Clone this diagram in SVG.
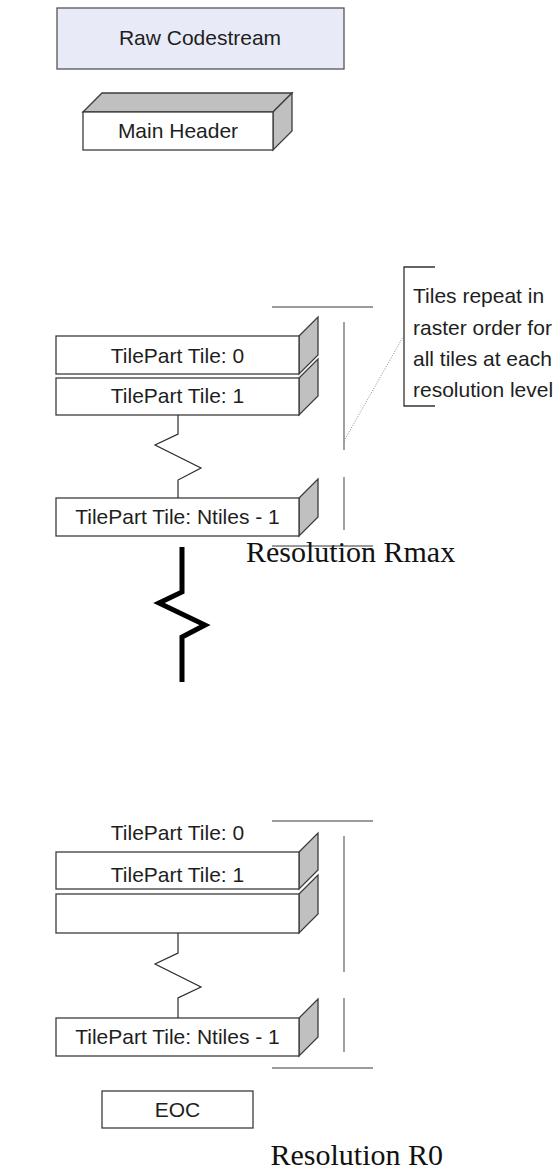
<svg xmlns="http://www.w3.org/2000/svg" width="558" height="1171" viewBox="0 0 558 1171">
<style>
.box{fill:#ffffff;stroke:#3c3c3c;stroke-width:1.3}
.side{fill:#c0c0c0;stroke:#3c3c3c;stroke-width:1.3;stroke-linejoin:miter}
.lbl{font-family:"Liberation Sans",Arial,sans-serif;font-size:21px;fill:#1e1e1e;text-anchor:middle}
.note{font-family:"Liberation Sans",Arial,sans-serif;font-size:21px;fill:#1e1e1e}
.res{font-family:"Liberation Serif","Times New Roman",serif;font-size:30px;fill:#111}
.gl{stroke:#7a7a7a;stroke-width:1.4;fill:none}
.zz{stroke:#2a2a2a;stroke-width:1.2;fill:none}
</style>
<rect width="558" height="1171" fill="#ffffff"/>

<g id="raw-codestream">
<rect x="57" y="8" width="287" height="61" fill="#e8ebf7" stroke="#555" stroke-width="1.3"/>
<text class="lbl" x="200" y="45">Raw Codestream</text>
</g>

<g id="main-header">
<polygon class="side" points="83,112 102,93 292,93 273,112"/>
<polygon class="side" points="273,112 292,93 292,131 273,150"/>
<rect class="box" x="83" y="112" width="190" height="38"/>
<text class="lbl" x="178" y="138">Main Header</text>
</g>

<g id="rmax-tile0">
<polygon class="side" points="299,336 318,317 318,355 299,374"/>
<rect class="box" x="56" y="336" width="243" height="38"/>
<text class="lbl" x="177.5" y="363">TilePart Tile: 0</text>
</g>
<g id="rmax-tile1">
<polygon class="side" points="299,378 318,359 318,396 299,415"/>
<rect class="box" x="56" y="378" width="243" height="37"/>
<text class="lbl" x="177.5" y="403">TilePart Tile: 1</text>
</g>
<g id="rmax-tileN">
<polygon class="side" points="299,498 318,479 318,517 299,536"/>
<rect class="box" x="56" y="498" width="243" height="38"/>
<text class="lbl" x="177.5" y="524">TilePart Tile: Ntiles - 1</text>
</g>

<g id="note">
<path d="M435,267 H404 V406 H435" fill="none" stroke="#333" stroke-width="1.3"/>
<text class="note" x="413" y="303">Tiles repeat in</text>
<text class="note" x="413" y="334.5">raster order for</text>
<text class="note" x="413" y="366">all tiles at each</text>
<text class="note" x="413" y="397">resolution level</text>
</g>

<g id="label-rmax">
<line class="gl" x1="272" y1="546" x2="373" y2="546"/>
<text class="res" x="246" y="562">Resolution Rmax</text>
</g>

<g id="r0-tile0">
<text class="lbl" x="177.5" y="840">TilePart Tile: 0</text>
</g>
<g id="r0-tile1">
<polygon class="side" points="299,852 318,833 318,870 299,889"/>
<rect class="box" x="56" y="852" width="243" height="37"/>
<text class="lbl" x="177.5" y="882">TilePart Tile: 1</text>
</g>
<g id="r0-empty">
<polygon class="side" points="299,894 318,875 318,914 299,933"/>
<rect class="box" x="56" y="894" width="243" height="39"/>
</g>
<g id="r0-tileN">
<polygon class="side" points="299,1018 318,999 318,1037 299,1056"/>
<rect class="box" x="56" y="1018" width="243" height="38"/>
<text class="lbl" x="177.5" y="1044">TilePart Tile: Ntiles - 1</text>
</g>

<g id="eoc">
<rect class="box" x="102" y="1091" width="151" height="37"/>
<text class="lbl" x="177.5" y="1117">EOC</text>
</g>

<g id="label-r0">
<text class="res" x="443" y="1165" text-anchor="end">Resolution R0</text>
</g>

<g id="connectors">
<polyline class="zz" points="178,415 178,434 155,445 201,468 178,480 178,498"/>
<polyline points="182,547 182,592 159,603 205,625 182,637 182,682" fill="none" stroke="#000" stroke-width="5" stroke-linejoin="miter"/>
<polyline class="zz" points="178,933 178,953 155,964 201,987 178,998 178,1018"/>
<line class="gl" x1="272" y1="307" x2="373" y2="307"/>
<line class="gl" x1="344" y1="322" x2="344" y2="450"/>
<line class="gl" x1="344" y1="477" x2="344" y2="530"/>
<line x1="344" y1="441" x2="403" y2="337" stroke="#8a8a8a" stroke-width="1" stroke-dasharray="1,1.5"/>
<line class="gl" x1="272" y1="821" x2="373" y2="821"/>
<line class="gl" x1="344" y1="836" x2="344" y2="972"/>
<line class="gl" x1="344" y1="998" x2="344" y2="1052"/>
<line class="gl" x1="272" y1="1068" x2="373" y2="1068"/>
</g>
</svg>
